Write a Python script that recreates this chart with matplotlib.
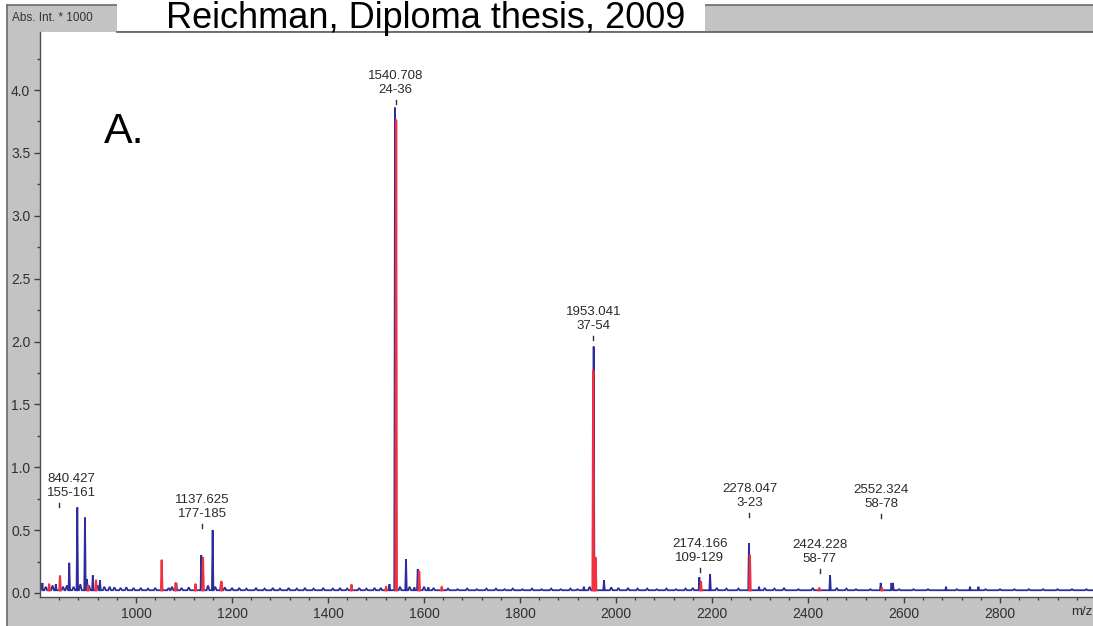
import numpy as np
import matplotlib
matplotlib.use("Agg")
import matplotlib.pyplot as plt
from matplotlib.patches import Rectangle
from matplotlib.lines import Line2D

plt.rcParams['font.family'] = ['Liberation Sans', 'DejaVu Sans']

# ---------------- data ----------------
baseline_level = 0.022

blue_peak_mz = [805, 833, 861, 877.7, 893.7, 898, 910, 925, 1084, 1136, 1159.7, 1177,
                1528, 1539.6, 1562.5, 1580, 1587, 1609, 1933, 1953.5, 1957, 1975,
                2173.6, 2196, 2277, 2298, 2446, 2551.5, 2574, 2577, 2687.5, 2737.5, 2755]
blue_peak_int = [0.08, 0.07, 0.24, 0.68, 0.60, 0.11, 0.14, 0.10, 0.08, 0.30, 0.50, 0.09,
                 0.07, 3.86, 0.27, 0.045, 0.19, 0.045, 0.05, 1.96, 0.27, 0.10,
                 0.125, 0.15, 0.395, 0.05, 0.14, 0.08, 0.08, 0.08, 0.05, 0.05, 0.05]

red_peak_mz = [819, 841.7, 900, 916.7, 1053.5, 1082.6, 1124, 1139.6, 1178, 1449, 1521,
               1542, 1590, 1637, 1952.5, 1957.5, 2177, 2279, 2423.5, 2554]
red_peak_int = [0.07, 0.135, 0.06, 0.10, 0.26, 0.08, 0.07, 0.28, 0.09, 0.065, 0.05,
                3.76, 0.17, 0.05, 1.77, 0.28, 0.09, 0.30, 0.04, 0.04]

noise_mz = [803, 812, 826, 848, 856, 870, 884, 902, 920, 934, 945, 955, 968, 980, 995,
            1010, 1025, 1040, 1068, 1075, 1095, 1110, 1150, 1165, 1185, 1200, 1215, 1230,
            1250, 1268, 1285, 1300, 1318, 1335, 1352, 1370, 1390, 1410, 1425, 1440, 1465,
            1480, 1497, 1510, 1550, 1570, 1600, 1620, 1650, 1670, 1690, 1710, 1730, 1750,
            1768, 1785, 1805, 1825, 1845, 1865, 1885, 1905, 1920, 1945, 1990, 2005, 2025,
            2045, 2065, 2085, 2105, 2125, 2145, 2160, 2210, 2230, 2255, 2310, 2330, 2350,
            2380, 2410, 2460, 2480, 2500, 2530, 2590, 2620, 2650, 2710, 2770, 2800, 2830,
            2860, 2890, 2920, 2950, 2980]
noise_int = [0.07, 0.05, 0.06, 0.05, 0.06, 0.05, 0.07, 0.06, 0.06, 0.05, 0.05, 0.045, 0.04,
             0.045, 0.04, 0.04, 0.035, 0.04, 0.04, 0.05, 0.04, 0.045, 0.06, 0.05, 0.045,
             0.04, 0.04, 0.035, 0.04, 0.035, 0.04, 0.035, 0.04, 0.035, 0.04, 0.035, 0.04,
             0.035, 0.04, 0.035, 0.04, 0.035, 0.04, 0.04, 0.05, 0.05, 0.05, 0.04, 0.035,
             0.03, 0.035, 0.03, 0.035, 0.035, 0.03, 0.035, 0.03, 0.035, 0.03, 0.035, 0.03,
             0.035, 0.03, 0.05, 0.045, 0.04, 0.04, 0.035, 0.035, 0.03, 0.035, 0.03, 0.035,
             0.04, 0.04, 0.035, 0.035, 0.04, 0.035, 0.04, 0.03, 0.04, 0.04, 0.035, 0.03,
             0.03, 0.03, 0.03, 0.03, 0.03, 0.03, 0.03, 0.03, 0.03, 0.03, 0.03, 0.03, 0.03]

label_mz = [840.427, 1137.625, 1540.708, 1953.041, 2174.166, 2278.047, 2424.228, 2552.324]
label_range = ["155-161", "177-185", "24-36", "37-54", "109-129", "3-23", "58-77", "58-78"]
# layout: height (data units) of the small marker dash above each labelled peak
label_mark_y = [0.684, 0.517, 3.89, 2.01, 0.167, 0.604, 0.159, 0.596]
label_dx_px = [12, 0, 0, 0, 0, 0, 0, 0]

y_ticks = [0.0, 0.5, 1.0, 1.5, 2.0, 2.5, 3.0, 3.5, 4.0]
x_ticks = [1000, 1200, 1400, 1600, 1800, 2000, 2200, 2400, 2600, 2800]

BLUE = '#2c2c9c'
RED = '#f2303e'

# ---------------- figure ----------------
W, H = 1093, 626
fig = plt.figure(figsize=(W / 100, H / 100), dpi=100)
fig.patch.set_facecolor('white')


def fx(px):
    return px / W


def fy(py):
    return 1 - py / H


# gray instrument frame
fig.patches.append(Rectangle((fx(7), 0), 1 - fx(7), fy(5), transform=fig.transFigure,
                             facecolor='#c3c3c3', edgecolor='none', zorder=0))
fig.lines.append(Line2D([fx(7), fx(7)], [0, fy(5)], transform=fig.transFigure,
                        color='#6a6a6a', lw=1.2, zorder=1))
fig.lines.append(Line2D([fx(7), 1], [fy(5), fy(5)], transform=fig.transFigure,
                        color='#6a6a6a', lw=1.2, zorder=1))
# white strip behind the title
fig.patches.append(Rectangle((fx(117), fy(31)), fx(705) - fx(117), 1 - fy(31),
                             transform=fig.transFigure, facecolor='white',
                             edgecolor='none', zorder=2))

ax = fig.add_axes([fx(40), fy(597), 1 - fx(40), fy(32) - fy(597)])
ax.set_facecolor('white')
ax.set_zorder(3)
ax.set_xlim(800, 800 + (W - 40) / 0.48)
ax.set_ylim((593 - 597) / 125.75, (593 - 32) / 125.75)

# blue spectrum: baseline with noise bumps and peaks
pts = [(800, baseline_level), (ax.get_xlim()[1], baseline_level)]
for m, h in zip(noise_mz, noise_int):
    pts += [(m - 3, baseline_level), (m, h), (m + 3, baseline_level)]
for m, h in zip(blue_peak_mz, blue_peak_int):
    pts += [(m - 1.5, baseline_level), (m, h), (m + 1.5, baseline_level)]
pts.sort(key=lambda p: p[0])
bx = [p[0] for p in pts]
by = [p[1] for p in pts]
ax.plot(bx, by, color=BLUE, lw=1.3, zorder=2, solid_joinstyle='miter')

# red spectrum: peaks only (drawn in front)
rx, ry = [], []
for m, h in zip(red_peak_mz, red_peak_int):
    rx += [m - 1.5, m, m + 1.5, np.nan]
    ry += [baseline_level, h, baseline_level, np.nan]
ax.plot(rx, ry, color=RED, lw=1.5, zorder=3)

# peak annotations
for m, rng, my, dx in zip(label_mz, label_range, label_mark_y, label_dx_px):
    ax.plot([m, m], [my, my + 0.03], color='#303030', lw=1.0, zorder=4)
    ax.annotate(f"{m:.3f}\n{rng}", xy=(m, my + 0.03), xytext=(dx * 0.72, 3),
                textcoords='offset points', ha='center', va='bottom',
                fontsize=9.5, color='#2a2a2a', linespacing=1.25)

# axes styling
for s in ['right', 'top']:
    ax.spines[s].set_visible(False)
for s in ['left', 'bottom']:
    ax.spines[s].set_color('#505050')
    ax.spines[s].set_linewidth(1.0)
fig.lines.append(Line2D([fx(117), 1], [fy(31.5), fy(31.5)], transform=fig.transFigure,
                        color='#5a5a5a', lw=1.2, zorder=5))

ax.set_xticks(x_ticks)
ax.set_xticklabels([str(t) for t in x_ticks])
ax.set_xticks(np.arange(840, 2994, 40), minor=True)
ax.set_yticks(y_ticks)
ax.set_yticklabels([f"{t:.1f}" for t in y_ticks])
ax.set_yticks(np.arange(0.25, 4.4, 0.5), minor=True)
ax.tick_params(which='major', direction='out', length=4, width=1, color='#404040',
               labelsize=10, labelcolor='#303030', pad=3)
ax.tick_params(which='minor', direction='out', length=2.5, width=1, color='#404040')

# texts
fig.text(fx(12), fy(18), "Abs. Int. * 1000", fontsize=8.5, color='#333333',
         ha='left', va='center', zorder=6)
fig.text(fx(166), fy(28), "Reichman, Diploma thesis, 2009", fontsize=26, color='black',
         ha='left', va='baseline', zorder=6)
fig.text(fx(104), fy(143), "A.", fontsize=31, color='black', ha='left', va='baseline',
         zorder=6)
fig.text(fx(1092), fy(612), "m/z", fontsize=9.5, color='#303030', ha='right', va='center',
         zorder=6)

fig.savefig("out.png", dpi=100)
